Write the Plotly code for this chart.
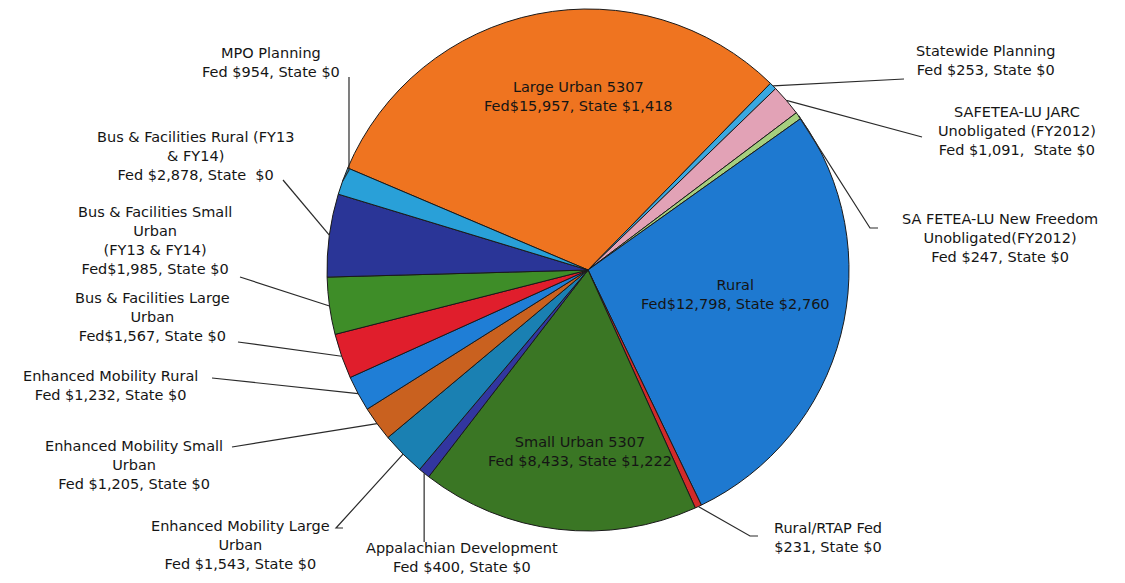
import math
import plotly.graph_objects as go

# ---- data ----
categories = [
    "Large Urban 5307", "Statewide Planning", "SAFETEA-LU JARC Unobligated (FY2012)",
    "SAFETEA-LU New Freedom Unobligated (FY2012)", "Rural", "Rural/RTAP",
    "Small Urban 5307", "Appalachian Development", "Enhanced Mobility Large Urban",
    "Enhanced Mobility Small Urban", "Enhanced Mobility Rural", "Bus & Facilities Large Urban",
    "Bus & Facilities Small Urban (FY13 & FY14)", "Bus & Facilities Rural (FY13 & FY14)",
    "MPO Planning",
]
fed = [15957, 253, 1091, 247, 12798, 231, 8433, 400, 1543, 1205, 1232, 1567, 1985, 2878, 954]
state = [1418, 0, 0, 0, 2760, 0, 1222, 0, 0, 0, 0, 0, 0, 0, 0]
label_texts = [
    "Large Urban 5307<br>Fed$15,957, State $1,418",
    "Statewide Planning<br>Fed $253, State $0",
    "SAFETEA-LU JARC<br>Unobligated (FY2012)<br>Fed $1,091,  State $0",
    "SA FETEA-LU New Freedom<br>Unobligated(FY2012)<br>Fed $247, State $0",
    "Rural<br>Fed$12,798, State $2,760",
    "Rural/RTAP Fed<br>$231, State $0",
    "Small Urban 5307<br>Fed $8,433, State $1,222",
    "Appalachian Development<br>Fed $400, State $0",
    "Enhanced Mobility Large<br>Urban<br>Fed $1,543, State $0",
    "Enhanced Mobility Small<br>Urban<br>Fed $1,205, State $0",
    "Enhanced Mobility Rural<br>Fed $1,232, State $0",
    "Bus & Facilities Large<br>Urban<br>Fed$1,567, State $0",
    "Bus & Facilities Small<br>Urban<br>(FY13 & FY14)<br>Fed$1,985, State $0",
    "Bus & Facilities Rural (FY13<br>& FY14)<br>Fed $2,878, State  $0",
    "MPO Planning<br>Fed $954, State $0",
]
totals = [f + s for f, s in zip(fed, state)]

# ---- styling / layout ----
colors = ["#EF7420", "#3AA8E0", "#E2A2B6", "#A6CF7E", "#1E79D0", "#D22A2A", "#3A7624",
          "#3236A0", "#1A80B2", "#C9611F", "#1F7ED6", "#E01E2C", "#3E8D28", "#2A3597", "#29A0D8"]
PAGE_W, PAGE_H = 1125, 583
OFF = 8                     # default page body margin
W, H = PAGE_W - 2 * OFF, PAGE_H - 2 * OFF
CX, CY, R = 588, 270, 261   # page pixels
ROT = 293

def px(x, y):
    return (x - OFF) / W, 1 - (y - OFF) / H

# label block centres (page pixels) and leader waypoints (page pixels)
label_pos = [(578, 97), (985, 60), (1017, 131), (1000, 238), (735, 294), (828, 537),
             (580, 451), (462, 557), (240, 545), (134, 465), (110, 385), (152, 317),
             (155, 241), (195, 156), (271, 62)]
inside = {0, 4, 6}
waypoints = {
    1: [(904, 79)],
    2: [(922, 137)],
    3: [(870, 228), (878, 228)],
    5: [(750, 536), (758, 536)],
    7: [("hx", 542)],
    8: [(336, 528), (343, 528)],
    9: [(232, 447)],
    10: [(212, 378)],
    11: [(238, 342)],
    12: [(240, 277)],
    13: [(283, 180)],
    14: [(349, 170), (349, 77)],
}

x0, y0 = px(CX - R, CY + R)
x1, y1 = px(CX + R, CY - R)
fig = go.Figure(go.Pie(
    values=totals, labels=categories, sort=False, direction="clockwise", rotation=ROT,
    marker=dict(colors=colors, line=dict(color="#1a1a1a", width=1)),
    textinfo="none", showlegend=False,
    domain=dict(x=[x0, x1], y=[y0, y1]),
))

total = sum(totals)
cum = 0
annotations, shapes = [], []
for i, v in enumerate(totals):
    mid = math.radians(ROT + (cum + v / 2) / total * 360)
    cum += v
    hx, hy = CX + R * math.sin(mid), CY - R * math.cos(mid)
    tx, ty = label_pos[i]
    X, Y = px(tx, ty)
    annotations.append(dict(
        x=X, y=Y, xref="paper", yref="paper", text=label_texts[i], showarrow=False,
        xanchor="center", yanchor="middle", align="center",
        font=dict(family="DejaVu Sans, Arial, sans-serif", size=14.5, color="#151515"),
    ))
    if i in inside:
        continue
    pts = [(hx, hy)] + [((hx if a == "hx" else a), b) for a, b in waypoints[i]]
    path = ""
    for k, (a, b) in enumerate(pts):
        pa, pb = px(a, b)
        path += ("M" if k == 0 else " L") + f" {pa:.5f},{pb:.5f}"
    shapes.append(dict(type="path", path=path, xref="paper", yref="paper",
                       line=dict(color="#2a2a2a", width=1.2)))

fig.update_layout(
    width=W, height=H, margin=dict(l=0, r=0, t=0, b=0),
    paper_bgcolor="white", plot_bgcolor="white",
    annotations=annotations, shapes=shapes,
)
fig.write_html("out.html")
